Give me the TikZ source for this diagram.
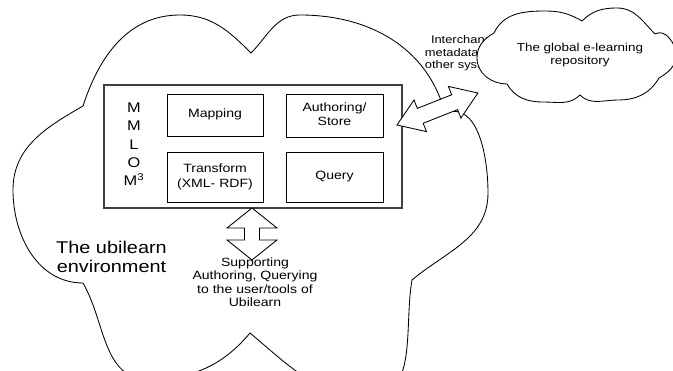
\documentclass[tikz,border=0pt]{standalone}
\usepackage{graphicx}
\usepackage{fontspec}
\setmainfont{Liberation Sans}
\newcommand{\wtext}[1]{\scalebox{1.17}[1]{\begin{tabular}{@{}c@{}}#1\end{tabular}}}
\begin{document}
\begin{tikzpicture}[x=1pt,y=1pt,
  cloudline/.style={draw=black, line width=0.85pt, fill=white},
  box/.style={draw=black, line width=0.85pt, fill=white, inner sep=0pt},
  mainrect/.style={draw=black!75, line width=1.1pt, fill=white, inner sep=0pt},
  txt/.style={inner sep=0pt, align=center},
  blockarrow/.style={draw=black, line width=0.85pt, fill=white, line join=miter}]
\useasboundingbox (0,0) rectangle (673,371);
\fill[white] (0,0) rectangle (673,371);
\clip (0,0) rectangle (673,371);

% big cloud: the ubilearn environment
\path[cloudline] (83,265) to[out=72,in=180] (180,356) to[out=0,in=135] (251,318)
  to[out=45,in=180] (300,356) to[out=0,in=105] (445,258)
  to[out=20,in=90] (488,178) to[out=-90,in=40] (412,91)
  to[out=-100,in=0] (370,-25) to[out=180,in=-40] (250,38)
  to[out=-130,in=0] (148,-8) to[out=180,in=-60] (83,88)
  to[out=180,in=-90] (13,181) to[out=90,in=210] cycle;

% main block
\node[mainrect, minimum width=298pt, minimum height=123pt] (mm) at (253,224.5) {};
\node[txt, font=\fontsize{14}{18.3}\selectfont] (letters) at (134,225.5)
  {\wtext{M\\M\\L\\O\\M\textsuperscript{3}}};
\node[box, minimum width=96pt, minimum height=42pt, font=\fontsize{12}{14}\selectfont] (map) at (215,256) {\wtext{Mapping}};
\node[box, minimum width=97pt, minimum height=43pt, font=\fontsize{12}{14}\selectfont] (auth) at (334.5,255.5) {\wtext{Authoring/\\Store}};
\node[box, minimum width=96pt, minimum height=50pt, font=\fontsize{12}{14.5}\selectfont] (trans) at (215,194) {\wtext{Transform\\(XML- RDF)}};
\node[box, minimum width=97pt, minimum height=50pt, font=\fontsize{12}{14}\selectfont] (query) at (334.5,194) {\wtext{Query}};

% vertical double block arrow
\path[blockarrow] (252,163) -- (227,143) -- (244.5,143) -- (244.5,131) -- (227,131)
  -- (252,111) -- (277,131) -- (259.5,131) -- (259.5,143) -- (277,143) -- cycle;

% texts in the big cloud
\node[txt, font=\fontsize{17}{19}\selectfont] (env) at (111.5,111.5) {\wtext{The ubilearn\\environment}};
\node[txt, font=\fontsize{12}{13.5}\selectfont] (supp) at (255,87) {\wtext{Supporting\\Authoring, Querying\\to the user/tools of\\Ubilearn}};

% interchange text (partly hidden by the small cloud)
\node[txt, font=\fontsize{11}{12.5}\selectfont] (inter) at (465,317) {\wtext{Interchange\\metadata with\\other systems}};

% small cloud: global repository
\path[cloudline] (494,338) to[out=65,in=180] (545,360) to[out=0,in=150] (582,350)
  to[out=45,in=180] (617,363) to[out=0,in=135] (655,337)
  to[out=30,in=90] (676,316) to[out=-90,in=30] (659,293)
  to[out=-120,in=0] (618,271) to[out=180,in=-45] (580,276)
  to[out=-135,in=0] (543,269) to[out=180,in=-60] (507,287)
  to[out=180,in=-90] (477,313) to[out=90,in=210] cycle;
\node[txt, font=\fontsize{11.5}{13}\selectfont] (global) at (580,315.5) {\wtext{The global e-learning\\repository}};

% diagonal double block arrow
\begin{scope}[shift={(397,246)}, rotate=21.56]
\path[blockarrow] (0,0) -- (25,17) -- (25,8) -- (62,8) -- (62,17) -- (87,0)
  -- (62,-17) -- (62,-8) -- (25,-8) -- (25,-17) -- cycle;
\end{scope}
\end{tikzpicture}
\end{document}
